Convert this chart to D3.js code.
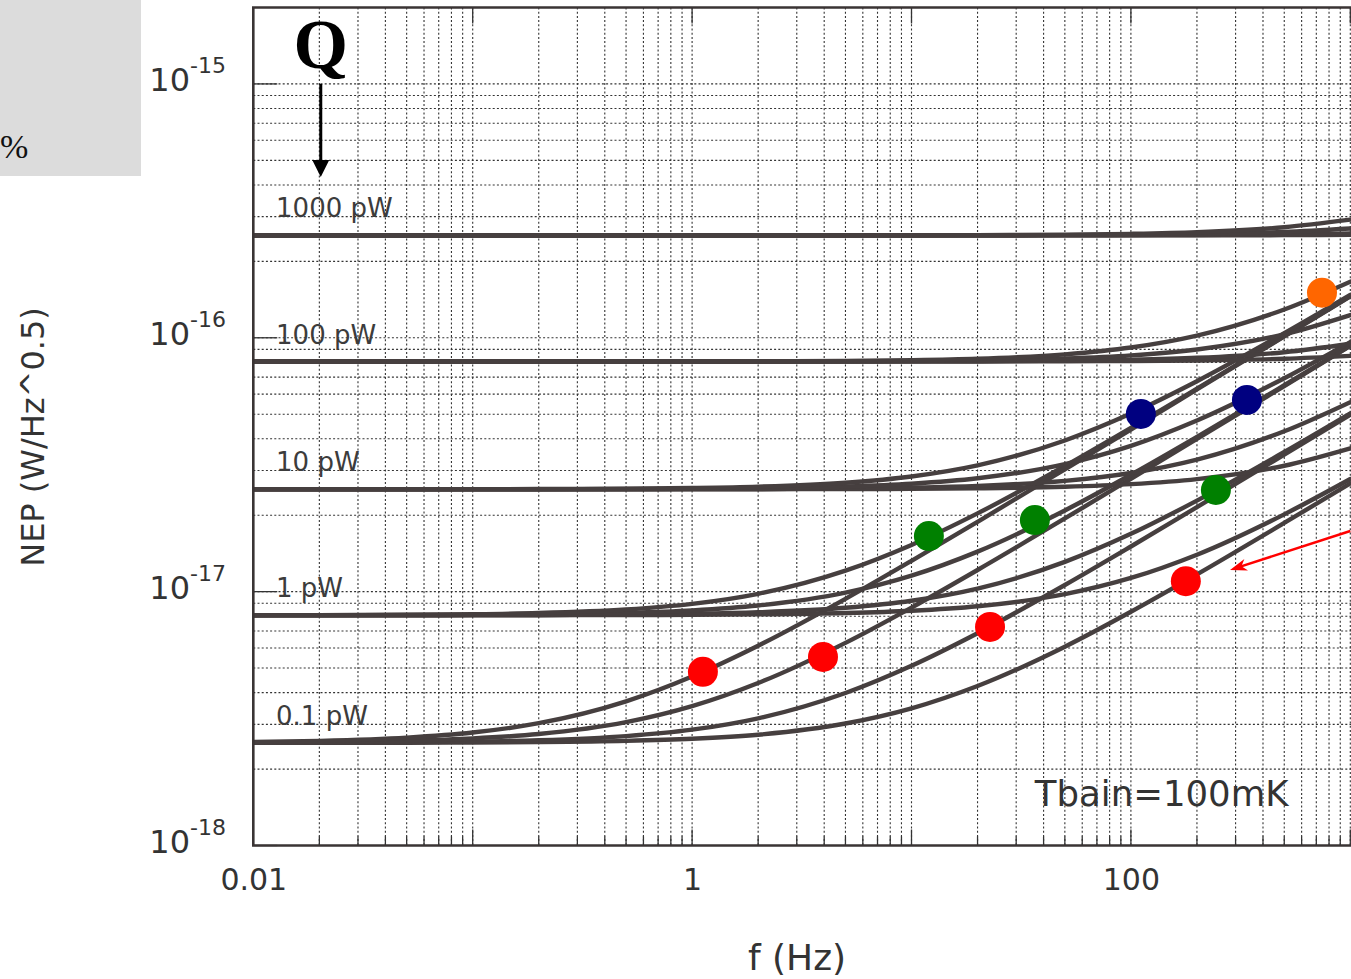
<!DOCTYPE html>
<html>
<head>
<meta charset="utf-8">
<script src="https://cdn.jsdelivr.net/npm/d3@7"></script>
<style>
  html, body { margin: 0; padding: 0; background: #ffffff; }
  svg { display: block; }
</style>
</head>
<body>
<script>
// ---------------- data (NEP in units of 1e-18 W/Hz^0.5) ----------------
const freqs = [0.01, 0.02, 0.05, 0.1, 0.2, 0.5, 1, 2, 5, 10, 20, 50, 100, 200, 500, 1000];

const levelNames = ["0.1 pW", "1 pW", "10 pW", "100 pW", "1000 pW"];
const levelNEP = [2.535, 8.07, 25.3, 80.6, 253.0];

const nep01pW = [
  [2.558, 2.583, 2.659, 2.786, 3.032, 3.697, 4.629, 6.123, 9.366, 13.22, 18.84, 30.31, 43.52, 62.58, 101.2, 145.6],
  [2.544, 2.555, 2.586, 2.640, 2.748, 3.061, 3.539, 4.365, 6.284, 8.653, 12.17, 19.42, 27.83, 39.95, 64.56, 92.86],
  [2.538, 2.541, 2.550, 2.566, 2.598, 2.697, 2.859, 3.170, 3.989, 5.106, 6.861, 10.62, 15.06, 21.51, 34.65, 49.78],
  [2.536, 2.537, 2.539, 2.544, 2.553, 2.582, 2.632, 2.731, 3.023, 3.469, 4.248, 6.069, 8.329, 11.69, 18.64, 26.70]
];
const nep1pW = [
  [8.077, 8.085, 8.110, 8.152, 8.239, 8.507, 8.951, 9.807, 12.10, 15.28, 20.34, 31.26, 44.19, 63.05, 101.5, 145.8],
  [8.073, 8.076, 8.086, 8.103, 8.139, 8.250, 8.439, 8.818, 9.909, 11.56, 14.38, 20.88, 28.86, 40.68, 65.02, 93.17],
  [8.070, 8.071, 8.075, 8.079, 8.090, 8.122, 8.177, 8.291, 8.637, 9.207, 10.28, 13.10, 16.89, 22.83, 35.48, 50.37],
  [8.070, 8.070, 8.071, 8.073, 8.075, 8.085, 8.101, 8.134, 8.236, 8.410, 8.760, 9.774, 11.32, 13.98, 20.16, 27.77]
];
const nep10pW = [
  [25.30, 25.31, 25.31, 25.33, 25.36, 25.44, 25.60, 25.91, 26.86, 28.43, 31.44, 39.40, 50.28, 67.45, 104.3, 147.7],
  [25.30, 25.30, 25.31, 25.31, 25.32, 25.36, 25.42, 25.55, 25.95, 26.62, 27.96, 31.80, 37.52, 47.22, 69.30, 96.21],
  [25.30, 25.30, 25.30, 25.30, 25.31, 25.32, 25.34, 25.37, 25.49, 25.69, 26.09, 27.32, 29.33, 33.11, 42.83, 55.79],
  [25.30, 25.30, 25.30, 25.30, 25.30, 25.30, 25.31, 25.32, 25.35, 25.41, 25.53, 25.89, 26.52, 27.76, 31.33, 36.69]
];
const nep100pW = [
  [80.60, 80.60, 80.60, 80.61, 80.62, 80.64, 80.69, 80.79, 81.10, 81.63, 82.73, 86.07, 91.56, 102.0, 129.3, 166.4],
  [80.60, 80.60, 80.60, 80.60, 80.61, 80.62, 80.64, 80.68, 80.80, 81.02, 81.47, 82.87, 85.23, 89.92, 103.2, 122.9],
  [80.60, 80.60, 80.60, 80.60, 80.60, 80.61, 80.61, 80.62, 80.66, 80.72, 80.85, 81.25, 81.95, 83.38, 87.69, 94.70],
  [80.60, 80.60, 80.60, 80.60, 80.60, 80.60, 80.60, 80.61, 80.62, 80.63, 80.67, 80.79, 80.99, 81.40, 82.69, 84.87]
];
const nep1000pW = [
  [253.0, 253.0, 253.0, 253.0, 253.0, 253.0, 253.0, 253.06, 253.16, 253.33, 253.69, 254.80, 256.7, 260.6, 272.5, 291.9],
  [253.0, 253.0, 253.0, 253.0, 253.0, 253.0, 253.0, 253.0, 253.03, 253.13, 253.28, 253.73, 254.51, 256.1, 261.1, 269.5],
  [253.0, 253.0, 253.0, 253.0, 253.0, 253.0, 253.0, 253.0, 253.0, 253.04, 253.08, 253.21, 253.43, 253.90, 255.3, 257.8],
  [253.0, 253.0, 253.0, 253.0, 253.0, 253.0, 253.0, 253.0, 253.0, 253.0, 253.02, 253.06, 253.12, 253.26, 253.67, 254.4]
];

const redDots = [[1.12, 4.83], [3.95, 5.53], [22.8, 7.26], [178, 11.0]];
const greenDots = [[12.0, 16.56], [36.5, 19.14], [244, 25.14]];
const blueDots = [[111, 50.1], [338, 56.9]];
const orangeDots = [[743, 150.5]];

const xTickValues = [0.01, 1, 100];
const xTickLabels = ["0.01", "1", "100"];
const yTickValues = [1e-15, 1e-16, 1e-17, 1e-18];
const yTickExponents = ["-15", "-16", "-17", "-18"];

// annotation anchors in data units (f in Hz, NEP in 1e-18 W/Hz^0.5)
const qLabel = { f: 0.0203, nep: 1155, text: "Q" };
const qArrow = { f: 0.0203, from: 1000, to: 430 };
const redArrow = { f0: 1000, nep0: 17.33, f1: 283, nep1: 12.17 };
const tempLabel = { f: 36.5, nep: 1.43, text: "Tbain=100mK" };

// ---------------- drawing ----------------
const W = 1351, H = 979;
const L = 253.3, R = 1350.3, T = 7.5, B = 845.5;

const svg = d3.select("body").append("svg")
  .attr("width", W).attr("height", H)
  .style("font-family", "'DejaVu Sans', sans-serif");

svg.append("rect").attr("width", W).attr("height", H).attr("fill", "#ffffff");

// grey corner box with %
svg.append("rect").attr("x", 0).attr("y", 0).attr("width", 141).attr("height", 176).attr("fill", "#dcdcdc");
svg.append("text").attr("x", 0).attr("y", 158)
  .style("font-family", "'Liberation Serif', serif").style("font-size", "34px")
  .attr("fill", "#111").text("%");

const x = d3.scaleLog().domain([0.01, 1000]).range([L, R]);
const y = d3.scaleLog().domain([1e-18, 2e-15]).range([B, T]);

const isMajor = v => Math.abs(Math.log10(v) - Math.round(Math.log10(v))) < 1e-6;

// grid
const grid = svg.append("g").attr("stroke", "#1e1e1e").attr("stroke-width", 1.1)
  .attr("stroke-dasharray", "2,2.2").attr("opacity", 0.9);
grid.selectAll("line.v").data(x.ticks()).join("line")
  .attr("x1", d => x(d)).attr("x2", d => x(d)).attr("y1", T).attr("y2", B);
grid.selectAll("line.h").data(y.ticks()).join("line")
  .attr("y1", d => y(d)).attr("y2", d => y(d)).attr("x1", L).attr("x2", W);

// solid tick marks
const ticks = svg.append("g").attr("stroke", "#333").attr("stroke-width", 1.3);
ticks.selectAll("line.b").data(x.ticks()).join("line")
  .attr("x1", d => x(d)).attr("x2", d => x(d)).attr("y1", B).attr("y2", d => B - (isMajor(d) ? 16 : 9));
ticks.selectAll("line.t").data(x.ticks().filter(isMajor)).join("line")
  .attr("x1", d => x(d)).attr("x2", d => x(d)).attr("y1", T).attr("y2", T + 16);
ticks.selectAll("line.l").data(y.ticks().filter(isMajor)).join("line")
  .attr("y1", d => y(d)).attr("y2", d => y(d)).attr("x1", L).attr("x2", L + 24);

// curves
svg.append("clipPath").attr("id", "clip").append("rect")
  .attr("x", L).attr("y", T).attr("width", W - L).attr("height", B - T);
const line = d3.line()
  .x((d, i) => x(freqs[i]))
  .y(d => y(d * 1e-18))
  .curve(d3.curveMonotoneX);
const families = [nep01pW, nep1pW, nep10pW, nep100pW, nep1000pW];
const curveG = svg.append("g").attr("clip-path", "url(#clip)");
families.forEach(fam => {
  curveG.selectAll(null).data(fam.slice().reverse()).join("path")
    .attr("d", line)
    .attr("fill", "none")
    .attr("stroke", "#463f3f")
    .attr("stroke-width", 4.4)
    .attr("stroke-linecap", "round");
});

// frame (left, top, bottom)
svg.append("path")
  .attr("d", `M${W},${T}H${L}V${B}H${W}`)
  .attr("fill", "none").attr("stroke", "#3a3434").attr("stroke-width", 2.6);

// level labels
svg.append("g").selectAll("text").data(levelNames).join("text")
  .attr("x", x(0.0127))
  .attr("y", (d, i) => y(levelNEP[i] * 1e-18) - 18)
  .attr("fill", "#3c3c3c")
  .style("font-size", "26px")
  .text(d => d);

// x axis
const xAxis = svg.append("g").attr("transform", `translate(0,${B})`)
  .call(d3.axisBottom(x).tickValues(xTickValues).tickSize(0)
    .tickFormat((d, i) => xTickLabels[i]));
xAxis.select(".domain").remove();
xAxis.selectAll("text")
  .attr("y", 44.5).attr("dy", 0)
  .attr("fill", "#333")
  .style("font-family", "'DejaVu Sans', sans-serif")
  .style("font-size", "30px");

// y axis
const yAxis = svg.append("g").attr("transform", `translate(226,0)`)
  .call(d3.axisLeft(y).tickValues(yTickValues).tickSize(0).tickFormat(() => ""));
yAxis.select(".domain").remove();
yAxis.selectAll(".tick text").remove();
yAxis.selectAll(".tick").each(function (d, i) {
  const t = d3.select(this).append("text")
    .attr("x", 0).attr("y", 7)
    .attr("text-anchor", "end")
    .attr("fill", "#333")
    .style("font-family", "'DejaVu Sans', sans-serif");
  t.append("tspan").style("font-size", "32px").text("10");
  t.append("tspan").style("font-size", "22px").attr("dy", -18).text(yTickExponents[i]);
});

// axis titles
svg.append("text")
  .attr("x", 797).attr("y", 970)
  .attr("text-anchor", "middle")
  .attr("fill", "#333")
  .style("font-size", "36px")
  .text("f (Hz)");
svg.append("text")
  .attr("transform", "translate(44,437) rotate(-90)")
  .attr("text-anchor", "middle")
  .attr("fill", "#333")
  .style("font-size", "32px")
  .text("NEP (W/Hz^0.5)");

// temperature label
svg.append("text")
  .attr("x", x(tempLabel.f)).attr("y", y(tempLabel.nep * 1e-18))
  .attr("fill", "#333")
  .style("font-size", "35.5px")
  .text(tempLabel.text);

// Q and arrow
svg.append("text")
  .attr("x", x(qLabel.f)).attr("y", y(qLabel.nep * 1e-18))
  .attr("text-anchor", "middle")
  .style("font-family", "'Liberation Serif', 'Times New Roman', serif")
  .style("font-weight", "bold")
  .style("font-size", "70px")
  .attr("fill", "#000")
  .text(qLabel.text);
const qx = x(qArrow.f), qy0 = y(qArrow.from * 1e-18), qy1 = y(qArrow.to * 1e-18);
svg.append("line").attr("x1", qx).attr("x2", qx).attr("y1", qy0).attr("y2", qy1 - 15)
  .attr("stroke", "#000").attr("stroke-width", 3);
svg.append("path")
  .attr("d", `M${qx - 8.5},${qy1 - 17}L${qx + 8.5},${qy1 - 17}L${qx},${qy1}Z`)
  .attr("fill", "#000");

// dots
const dotSets = [[redDots, "#ff0000"], [greenDots, "#008000"], [blueDots, "#000080"], [orangeDots, "#ff6600"]];
dotSets.forEach(([pts, col]) => {
  svg.append("g").selectAll("circle").data(pts).join("circle")
    .attr("cx", d => x(d[0])).attr("cy", d => y(d[1] * 1e-18))
    .attr("r", 15).attr("fill", col);
});

// red arrow
const ax0 = x(redArrow.f0), ay0 = y(redArrow.nep0 * 1e-18);
const ax1 = x(redArrow.f1), ay1 = y(redArrow.nep1 * 1e-18);
const dx = ax0 - ax1, dy = ay0 - ay1, len = Math.hypot(dx, dy);
const ux = dx / len, uy = dy / len, px = -uy, py = ux;
svg.append("line")
  .attr("x1", ax0).attr("y1", ay0)
  .attr("x2", ax1 + ux * 10).attr("y2", ay1 + uy * 10)
  .attr("stroke", "#ff0000").attr("stroke-width", 2.5);
svg.append("path")
  .attr("d", `M${ax1},${ay1}L${ax1 + ux * 17 + px * 6},${ay1 + uy * 17 + py * 6}L${ax1 + ux * 12},${ay1 + uy * 12}L${ax1 + ux * 17 - px * 6},${ay1 + uy * 17 - py * 6}Z`)
  .attr("fill", "#ff0000");
</script>
</body>
</html>
